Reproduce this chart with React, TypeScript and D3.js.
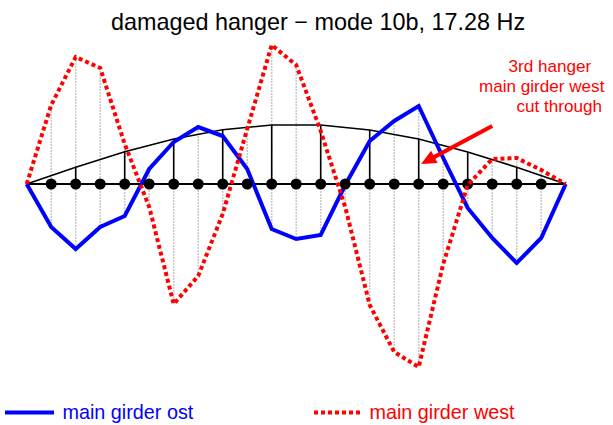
import React from 'react';
import * as d3 from 'd3';

const title = 'damaged hanger \u2212 mode 10b, 17.28 Hz';
// vertical displacement at each of the 23 nodes (0..22)
const girderOst = [0, -43, -65, -43, -32, 15, 42, 57, 48, 15, -45, -55, -51, -1, 43, 63, 78, 26, -24, -54, -79, -54, 0];
const girderWest = [0, 79, 127, 116, 40, -23, -120, -92, -30, 55, 139, 119, 53, -23, -121, -168, -183, -80, -1, 25, 26, 14, 0];
const archNodes = [0, 2, 4, 6, 8, 10, 12, 14, 16, 18, 20, 22];
const archHeights = [0, 16.7, 32.3, 45, 54.3, 59, 59, 54, 45, 32, 16.7, 0];
const hangerNodes = [2, 4, 6, 8, 10, 12, 14, 16, 18, 20];
const jointNodes = [1, 2, 3, 4, 5, 6, 7, 8, 9, 10, 11, 12, 13, 14, 15, 16, 17, 18, 19, 20, 21];
const annotationLines = ['3rd hanger', 'main girder west', 'cut through'];
const annotationX = [508.5, 479, 516.5];
const arrowFrom = [19, 58];
const arrowTo = [16.1, 20];
const legendLabels = ['main girder ost', 'main girder west'];

const FONT = '"Liberation Sans", Arial, Helvetica, sans-serif';
const BLUE = '#0000ff';
const RED = '#ff0000';

export default function App() {
  const W = 613, H = 425;
  const x = d3.scaleLinear().domain([0, 22]).range([26.7, 565.7]);
  const y = d3.scaleLinear().domain([-200, 160]).range([384, 24]);
  const nodeIdx = girderOst.map((_, i) => i);

  const line = d3.line<[number, number]>().x(d => x(d[0])).y(d => y(d[1]));
  const ostPath = line(girderOst.map((v, i) => [i, v] as [number, number]))!;
  const westPath = line(girderWest.map((v, i) => [i, v] as [number, number]))!;
  const archPath = line(archNodes.map((n, i) => [n, archHeights[i]] as [number, number]))!;
  const archAt = (n: number) => archHeights[archNodes.indexOf(n)];

  // arrow geometry
  const ax0 = x(arrowFrom[0]), ay0 = y(arrowFrom[1]);
  const ax1 = x(arrowTo[0]), ay1 = y(arrowTo[1]);
  const dx = ax1 - ax0, dy = ay1 - ay0;
  const len = Math.hypot(dx, dy);
  const ux = dx / len, uy = dy / len;
  const headL = 15, headW = 7;
  const bx = ax1 - ux * headL, by = ay1 - uy * headL;
  const head = [
    [ax1, ay1],
    [bx - uy * headW, by + ux * headW],
    [bx + uy * headW, by - ux * headW],
  ].map(p => p.join(',')).join(' ');

  return (
    <svg width={W} height={H} style={{ position: 'absolute', left: 0, top: 0, background: '#fff' }}>
      <rect x={0} y={0} width={W} height={H} fill="#fff" />
      <text x={318} y={30} textAnchor="middle" fontFamily={FONT} fontSize={23.4} fill="#000">{title}</text>

      {/* cross-girder connections */}
      {nodeIdx.slice(1, -1).map(i => (
        <line key={'g' + i} x1={x(i)} x2={x(i)} y1={y(girderWest[i])} y2={y(girderOst[i])}
          stroke="#c8c8c8" strokeWidth={1.5} strokeDasharray="2,1" />
      ))}

      {/* deck */}
      <line x1={x(0)} x2={x(22)} y1={y(0)} y2={y(0)} stroke="#000" strokeWidth={2} />
      {hangerNodes.map(n => (
        <line key={'h' + n} x1={x(n)} x2={x(n)} y1={y(archAt(n))} y2={y(0)} stroke="#000" strokeWidth={1.6} />
      ))}
      <path d={archPath} fill="none" stroke="#000" strokeWidth={1.6} />

      <path d={ostPath} fill="none" stroke={BLUE} strokeWidth={4} strokeLinejoin="miter" />
      {jointNodes.map(n => (
        <circle key={'c' + n} cx={x(n)} cy={y(0)} r={5.5} fill="#000" />
      ))}
      <path d={westPath} fill="none" stroke={RED} strokeWidth={4} strokeDasharray="4,3" />

      {/* annotation */}
      {annotationLines.map((t, i) => (
        <text key={'a' + i} x={annotationX[i]} y={72 + i * 20} fontFamily={FONT} fontSize={17.1} fill={RED}>{t}</text>
      ))}
      <line x1={ax0} y1={ay0} x2={bx + ux * 2} y2={by + uy * 2} stroke={RED} strokeWidth={4} />
      <polygon points={head} fill={RED} />

      {/* legend */}
      <line x1={5} x2={54} y1={412.5} y2={412.5} stroke={BLUE} strokeWidth={4} />
      <text x={62.5} y={418.5} fontFamily={FONT} fontSize={19.8} fill={BLUE}>{legendLabels[0]}</text>
      <line x1={314} x2={363} y1={412.5} y2={412.5} stroke={RED} strokeWidth={4} strokeDasharray="4,3" />
      <text x={369.5} y={418.5} fontFamily={FONT} fontSize={19.8} fill={RED}>{legendLabels[1]}</text>
    </svg>
  );
}
